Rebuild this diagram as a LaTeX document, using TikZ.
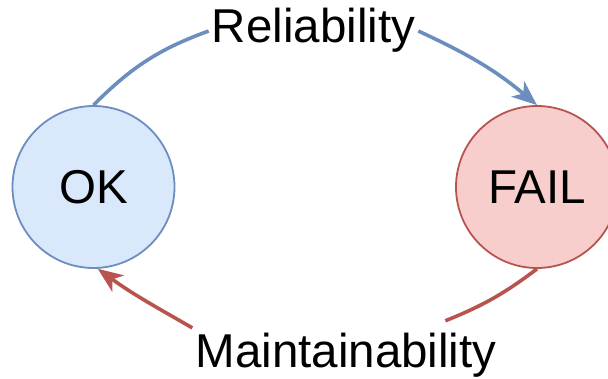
\documentclass[tikz,border=0pt]{standalone}
\usepackage{fontspec}
\setmainfont{Liberation Sans}
\usetikzlibrary{arrows.meta}
\definecolor{okfill}{HTML}{DAE8FC}
\definecolor{okline}{HTML}{6C8EBF}
\definecolor{failfill}{HTML}{F8CECC}
\definecolor{failline}{HTML}{B85450}
\begin{document}
\begin{tikzpicture}[x=1pt,y=1pt,
  state/.style={circle, draw, line width=1.8pt, minimum size=162pt, inner sep=0pt,
    font=\fontsize{47.5}{56}\selectfont},
  edgelabel/.style={anchor=base, inner xsep=3pt, inner ysep=12pt,
    text height=34pt, text depth=10pt, font=\fontsize{47.5}{56}\selectfont},
  flow/.style={line width=3.6pt},
  tip/.style={-{Stealth[length=25pt,width=20pt,inset=7pt]}}]
\useasboundingbox (0,0) rectangle (608,378);
\node[state, fill=okfill, draw=okline] (ok) at (93.5,191) {OK};
\node[state, fill=failfill, draw=failline] (fail) at (537,191) {FAIL};
\node[edgelabel] (rel) at (313.5,335) {Reliability};
\node[edgelabel] (main) at (346,11) {Maintainability};
% reliability: OK -> FAIL over the top
\draw[flow, okline] (ok.north) to[out=45,in=-160] (rel.west);
\draw[flow, okline, tip] (rel.east) to[out=-25,in=140] (fail.north);
% maintainability: FAIL -> OK along the bottom
\draw[flow, failline] (fail.south) to[out=-143,in=22] (main.19);
\draw[flow, failline, tip] (main.170) to[out=150,in=-36] (ok.-87);
\end{tikzpicture}
\end{document}
